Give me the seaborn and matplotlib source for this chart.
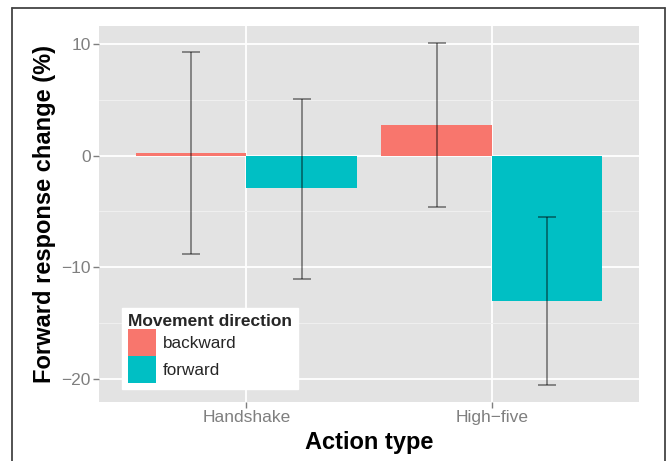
import matplotlib
matplotlib.use("Agg")
import matplotlib.pyplot as plt
from matplotlib.lines import Line2D
from matplotlib.patches import Patch
import pandas as pd
import seaborn as sns

# values
actions = ["Handshake", "High\u2212five"]
directions = ["backward", "forward"]
backward_mean = [0.2, 2.75]
forward_mean = [-2.9, -13.0]
backward_low = [-8.8, -4.6]
backward_high = [9.3, 10.1]
forward_low = [-11.0, -20.55]
forward_high = [5.1, -5.5]

colors = {"backward": "#F8766D", "forward": "#00BFC4"}


def main():
    df = pd.DataFrame({
        "action": actions * 2,
        "direction": ["backward"] * 2 + ["forward"] * 2,
        "change": backward_mean + forward_mean,
        "low": backward_low + forward_low,
        "high": backward_high + forward_high,
    })

    sns.set_theme(style="darkgrid")
    plt.rcParams["font.family"] = ["Liberation Sans", "DejaVu Sans"]

    fig = plt.figure(figsize=(6.67, 4.61), dpi=100)
    ax = fig.add_axes([99 / 667, 1 - 402 / 461, 540 / 667, 376 / 461])
    ax.set_facecolor("#E3E3E3")

    sns.barplot(data=df, x="action", y="change", hue="direction",
                order=actions, hue_order=directions, palette=colors,
                width=0.9, errorbar=None, saturation=1, ax=ax,
                linewidth=0, legend=False)

    # error bars at the centre of each bar
    for d_i, d in enumerate(directions):
        sub = df[df["direction"] == d].set_index("action").loc[actions]
        patches = ax.patches[d_i * len(actions):(d_i + 1) * len(actions)]
        xs = [p.get_x() + p.get_width() / 2 for p in patches]
        mid = sub["change"].values
        yerr = [mid - sub["low"].values, sub["high"].values - mid]
        ax.errorbar(xs, mid, yerr=yerr, fmt="none", ecolor="black",
                    alpha=0.45, elinewidth=1.3, capsize=6.5, capthick=1.3,
                    zorder=3)

    ax.set_xlim(-0.6, 1.6)
    ax.set_ylim(-22.05, 11.6)
    ax.set_yticks([-20, -10, 0, 10])
    ax.set_yticks([-15, -5, 5], minor=True)

    ax.grid(which="major", color="white", linewidth=1.3)
    ax.grid(which="minor", axis="y", color="#F0F0F0", linewidth=0.7)
    ax.grid(which="minor", axis="x", visible=False)
    ax.set_axisbelow(True)
    for s in ax.spines.values():
        s.set_visible(False)

    ax.tick_params(axis="both", which="major", colors="#7F7F7F",
                   labelcolor="#7F7F7F", labelsize=12.5, length=4,
                   width=1, direction="out", left=True, bottom=True, pad=2)
    ax.tick_params(axis="both", which="minor", length=0)

    ax.set_xlabel("Action type", fontsize=17, fontweight="bold",
                  color="black", labelpad=4)
    ax.set_ylabel("Forward response change (%)", fontsize=17,
                  fontweight="bold", color="black", labelpad=4)

    handles = [Patch(facecolor=colors[d], edgecolor="none") for d in directions]
    leg = ax.legend(handles, directions, title="Movement direction",
                    loc="lower left", bbox_to_anchor=(0.043, 0.035),
                    borderaxespad=0, fontsize=12.3, title_fontsize=12.5,
                    handlelength=1.63, handleheight=2.05, labelspacing=0,
                    handletextpad=0.4, borderpad=0.35, alignment="left",
                    frameon=True, fancybox=False, framealpha=1)
    leg.get_frame().set_facecolor("white")
    leg.get_frame().set_edgecolor("white")
    leg.get_title().set_fontweight("bold")

    # outer frame of the source figure (cropped at the bottom)
    frame_kw = dict(color="#444444", linewidth=1.3, transform=fig.transFigure)
    x0, x1, y0 = 12 / 667, 665 / 667, 1 - 8 / 461
    fig.add_artist(Line2D([x0, x0], [0, y0], **frame_kw))
    fig.add_artist(Line2D([x0, x1], [y0, y0], **frame_kw))
    fig.add_artist(Line2D([x1, x1], [0, y0], **frame_kw))

    fig.savefig("out.png", dpi=100, facecolor="white")
    plt.close(fig)


if __name__ == "__main__":
    main()
